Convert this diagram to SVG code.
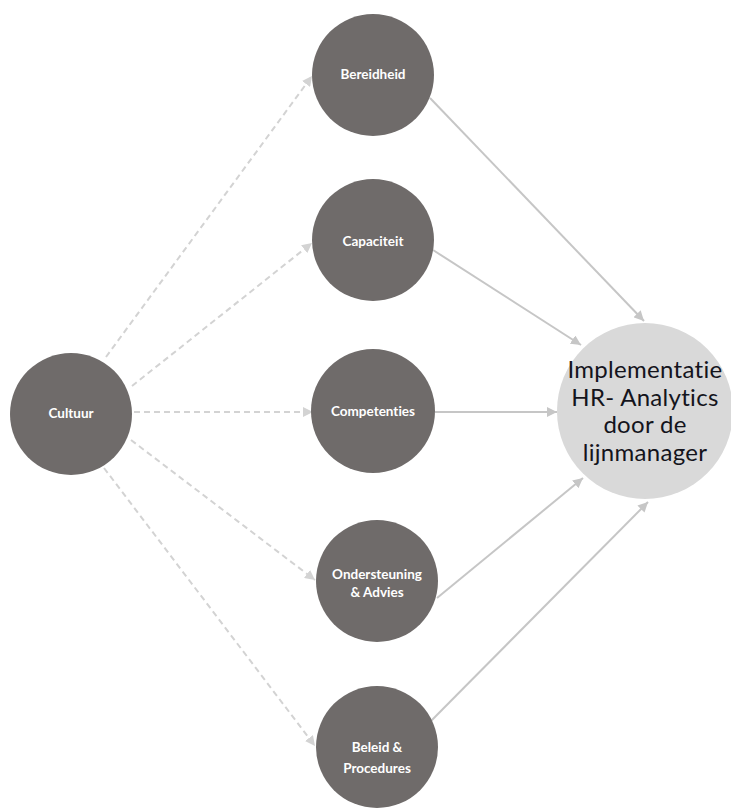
<svg xmlns="http://www.w3.org/2000/svg" width="731" height="810" viewBox="0 0 731 810">
  <style>
    text { font-variant-ligatures: none; font-feature-settings: "liga" 0; }
    .node { fill: #6f6b6a; }
    .target { fill: #d9d9d9; }
    .label { font-family: Lato, "Open Sans", "Liberation Sans", sans-serif; font-weight: bold; font-size: 13.5px; fill: #ffffff; text-anchor: middle; }
    .big { font-family: Lato, "Open Sans", "Liberation Sans", sans-serif; font-size: 24px; letter-spacing: 0.3px; fill: #14141c; text-anchor: middle; }
    .dashed { stroke: #d3d3d3; stroke-width: 2; stroke-dasharray: 6 4; fill: none; }
    .solid { stroke: #c6c6c6; stroke-width: 2; fill: none; }
  </style>
  <defs>
    <marker id="arrowDash" viewBox="0 0 10 10" refX="10" refY="5" markerWidth="10" markerHeight="10" markerUnits="userSpaceOnUse" orient="auto">
      <path d="M0,0 L10,5 L0,10 Z" fill="#d3d3d3"/>
    </marker>
    <marker id="arrowSolid" viewBox="0 0 10 10" refX="10" refY="5" markerWidth="10" markerHeight="10" markerUnits="userSpaceOnUse" orient="auto">
      <path d="M0,0 L10,5 L0,10 Z" fill="#c6c6c6"/>
    </marker>
  </defs>

  <!-- connectors -->
  <g id="connectors">
    <line class="dashed" x1="106" y1="357" x2="312" y2="76" marker-end="url(#arrowDash)"/>
    <line class="dashed" x1="132" y1="386" x2="312" y2="243" marker-end="url(#arrowDash)"/>
    <line class="dashed" x1="134" y1="412" x2="313" y2="412" marker-end="url(#arrowDash)"/>
    <line class="dashed" x1="131" y1="440" x2="315" y2="580" marker-end="url(#arrowDash)"/>
    <line class="dashed" x1="104" y1="468" x2="315" y2="746" marker-end="url(#arrowDash)"/>

    <line class="solid" x1="430" y1="98" x2="644" y2="321" marker-end="url(#arrowSolid)"/>
    <line class="solid" x1="433" y1="250" x2="581" y2="345" marker-end="url(#arrowSolid)"/>
    <line class="solid" x1="435" y1="412" x2="557" y2="412" marker-end="url(#arrowSolid)"/>
    <line class="solid" x1="437" y1="598" x2="583" y2="478" marker-end="url(#arrowSolid)"/>
    <line class="solid" x1="430" y1="722" x2="648" y2="502" marker-end="url(#arrowSolid)"/>
  </g>

  <!-- source node -->
  <g id="cultuur">
    <circle class="node" cx="71" cy="414" r="61"/>
    <text class="label" x="71" y="418">Cultuur</text>
  </g>

  <!-- middle nodes -->
  <g id="bereidheid">
    <circle class="node" cx="373" cy="75" r="61"/>
    <text class="label" x="373" y="79">Bereidheid</text>
  </g>
  <g id="capaciteit">
    <circle class="node" cx="373" cy="240" r="61"/>
    <text class="label" x="373" y="246">Capaciteit</text>
  </g>
  <g id="competenties">
    <circle class="node" cx="373" cy="411" r="62"/>
    <text class="label" x="373" y="416">Competenties</text>
  </g>
  <g id="ondersteuning">
    <circle class="node" cx="377" cy="581" r="61"/>
    <text class="label" x="377" y="579">Ondersteuning</text>
    <text class="label" x="377" y="597">&amp; Advies</text>
  </g>
  <g id="beleid">
    <circle class="node" cx="377" cy="747" r="61"/>
    <text class="label" x="377" y="752">Beleid &amp;</text>
    <text class="label" x="377" y="773">Procedures</text>
  </g>

  <!-- target node -->
  <g id="implementatie">
    <circle class="target" cx="645" cy="411" r="88"/>
    <text class="big" x="645" y="378">Implementatie</text>
    <text class="big" x="645" y="405.5">HR- Analytics</text>
    <text class="big" x="645" y="433">door de</text>
    <text class="big" x="645" y="460.5">lijnmanager</text>
  </g>
</svg>
